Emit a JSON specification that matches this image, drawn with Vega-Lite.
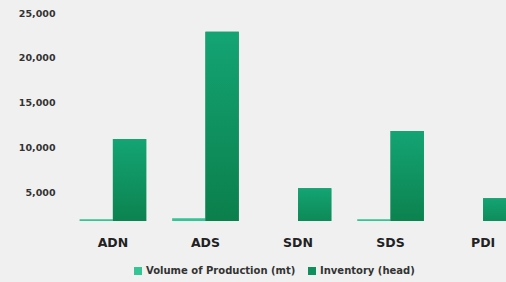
{
  "$schema": "https://vega.github.io/schema/vega-lite/v6.json",
  "autosize": {"type": "none"},
  "width": 444,
  "height": 208,
  "padding": {"left": 62, "top": 13, "right": 0, "bottom": 61},
  "background": "#f0f0f0",
  "config": {
    "view": {"stroke": null},
    "font": "DejaVu Sans"
  },
  "data": {
    "values": [
      {"region": "ADN", "series": "Volume of Production (mt)", "value": 2000},
      {"region": "ADN", "series": "Inventory (head)", "value": 10950},
      {"region": "ADS", "series": "Volume of Production (mt)", "value": 2100},
      {"region": "ADS", "series": "Inventory (head)", "value": 22900},
      {"region": "SDN", "series": "Volume of Production (mt)", "value": 0},
      {"region": "SDN", "series": "Inventory (head)", "value": 5450},
      {"region": "SDS", "series": "Volume of Production (mt)", "value": 2000},
      {"region": "SDS", "series": "Inventory (head)", "value": 11850},
      {"region": "PDI", "series": "Volume of Production (mt)", "value": 0},
      {"region": "PDI", "series": "Inventory (head)", "value": 4350}
    ]
  },
  "encoding": {
    "x": {
      "field": "region",
      "type": "nominal",
      "sort": ["ADN", "ADS", "SDN", "SDS", "PDI"],
      "scale": {"range": [0, 472], "paddingInner": 0.28, "paddingOuter": 0.19},
      "axis": {
        "title": null,
        "labelAngle": 0,
        "domain": false,
        "ticks": false,
        "labelPadding": 15,
        "labelFontSize": 12.5,
        "labelFontWeight": "bold",
        "labelColor": "#222222"
      }
    },
    "xOffset": {
      "field": "series",
      "type": "nominal",
      "sort": ["Volume of Production (mt)", "Inventory (head)"],
      "scale": {"paddingInner": 0}
    },
    "y": {
      "field": "value",
      "type": "quantitative",
      "scale": {"domain": [1800, 25000], "zero": false, "nice": false},
      "axis": {
        "title": null,
        "values": [5000, 10000, 15000, 20000, 25000],
        "format": ",d",
        "grid": false,
        "domain": false,
        "ticks": false,
        "labelPadding": 7,
        "labelFontSize": 9.5,
        "labelFontWeight": "bold",
        "labelColor": "#333333"
      }
    }
  },
  "layer": [
    {
      "mark": {"type": "bar", "clip": true},
      "encoding": {
        "color": {
          "field": "series",
          "type": "nominal",
          "sort": ["Volume of Production (mt)", "Inventory (head)"],
          "scale": {"range": ["#33c596", "#0e8f5d"]},
          "legend": {
            "title": null,
            "orient": "none",
            "direction": "horizontal",
            "legendX": 71,
            "legendY": 253,
            "symbolType": "square",
            "symbolSize": 64,
            "symbolStrokeWidth": 0,
            "labelFontSize": 10,
            "labelFontWeight": "bold",
            "labelColor": "#333333",
            "columnPadding": 11,
            "labelOffset": 3
          }
        }
      }
    },
    {
      "transform": [{"filter": "datum.series === 'Inventory (head)'"}],
      "mark": {
        "type": "bar",
        "clip": true,
        "fill": {
          "gradient": "linear",
          "x1": 0, "y1": 0, "x2": 0, "y2": 1,
          "stops": [
            {"offset": 0, "color": "#14a474"},
            {"offset": 1, "color": "#0a7c48"}
          ]
        }
      }
    }
  ]
}
